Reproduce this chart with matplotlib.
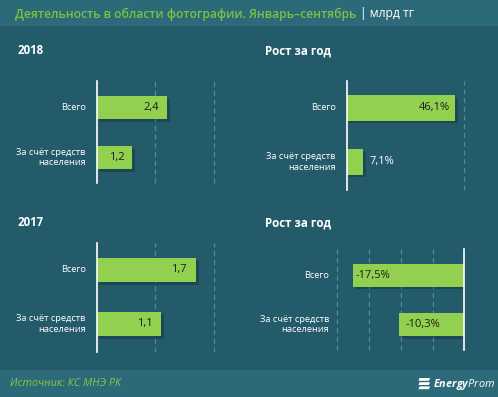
import matplotlib
matplotlib.use("Agg")
import matplotlib.pyplot as plt
import matplotlib.patheffects as pe
from matplotlib.patches import Rectangle, Polygon

plt.rcParams['font.family'] = ['Open Sans', 'DejaVu Sans']
plt.rcParams['mathtext.fontset'] = 'custom'
plt.rcParams['mathtext.bf'] = 'Open Sans:italic:bold'
plt.rcParams['mathtext.rm'] = 'Open Sans:italic'

# ---- data ----
title_main = "Деятельность в области фотографии. Январь–сентябрь"
title_unit = "| млрд тг"
categories = ["Всего", "За счёт средств\nнаселения"]
values_2018 = [2.4, 1.2]
labels_2018 = ["2,4", "1,2"]
growth_2018 = [46.1, 7.1]
glabels_2018 = ["46,1%", "7,1%"]
values_2017 = [1.7, 1.1]
labels_2017 = ["1,7", "1,1"]
growth_2017 = [-17.5, -10.3]
glabels_2017 = ["-17,5%", "-10,3%"]
source = "Источник: КС МНЭ РК"

W, H = 498, 397
BG = "#245b6a"
BAND = "#2c6979"
GREEN = "#92d050"
GRID = "#4d8c9c"
TXT_DARK = "#1c1c1c"

fig = plt.figure(figsize=(W / 100, H / 100), dpi=100)
fig.patch.set_facecolor(BG)

# bands
fig.add_artist(Rectangle((0, 1 - 26 / H), 1, 26 / H, transform=fig.transFigure,
                         facecolor=BAND, edgecolor='none', zorder=0))
fig.add_artist(Rectangle((0, 0), 1, 27 / H, transform=fig.transFigure,
                         facecolor=BAND, edgecolor='none', zorder=0))


def px_axes(x0, y0, x1, y1):
    return fig.add_axes([x0 / W, 1 - y1 / H, (x1 - x0) / W, (y1 - y0) / H])


def panel(rect, vals, labs, xlim, grids, ylim, bh, zero_x, label_x, inside_pad, outside):
    ax = px_axes(*rect)
    ax.set_facecolor('none')
    ys = list(range(len(categories)))
    ax.barh(ys, vals, height=bh, color=GREEN, zorder=3,
            path_effects=[pe.SimplePatchShadow(offset=(2, -2), shadow_rgbFace='black', alpha=0.2),
                          pe.Normal()])
    ax.set_xlim(*xlim)
    ax.set_ylim(*ylim)
    for g in grids:
        ax.axvline(g, color=GRID, lw=0.9, ls=(0, (4, 3)), zorder=1, clip_on=False)
    ax.axvline(zero_x, color='white', lw=1.2, zorder=4, clip_on=False)
    for s in ax.spines.values():
        s.set_visible(False)
    ax.set_xticks([])
    ax.set_yticks([])
    # category labels
    for y, c in zip(ys, categories):
        ax.annotate(c, xy=(0, y), xycoords=('axes fraction', 'data'),
                    xytext=(label_x, 0), textcoords='offset points',
                    ha='right', va='center', color='white', fontsize=6.7,
                    linespacing=1.2)
    # value labels
    for y, v, l, pad, out in zip(ys, vals, labs, inside_pad, outside):
        if out:
            ax.annotate(l, xy=(v, y), xytext=(pad, 0), textcoords='offset points',
                        ha='left', va='center', color='white', fontsize=8, zorder=5)
        elif v >= 0:
            ax.annotate(l, xy=(v, y), xytext=(-pad, 0), textcoords='offset points',
                        ha='right', va='center', color=TXT_DARK, fontsize=8, zorder=5)
        else:
            ax.annotate(l, xy=(v, y), xytext=(pad, 0), textcoords='offset points',
                        ha='left', va='center', color=TXT_DARK, fontsize=8, zorder=5)
    return ax


# 2018 values
panel((96.7, 81, 214, 183), values_2018, labels_2018, (0, 4), [2, 4],
      (1.51, -0.53), 0.46, 0, -8, [5.5, 5.5], [False, False])
# 2018 growth
panel((346.7, 81, 464, 190), growth_2018, glabels_2018, (0, 50), [50],
      (1.52, -0.5), 0.47, 0, -8, [3.5, 4.5], [False, True])
# 2017 values
panel((96.7, 243, 214, 352), values_2017, labels_2017, (0, 2), [1, 2],
      (1.52, -0.5), 0.46, 0, -8, [7, 6], [False, False])
# 2017 growth
panel((337.3, 249, 464.3, 350), growth_2017, glabels_2017, (-20, 0), [-20, -15, -10, -5],
      (1.51, -0.53), 0.46, 0, -6, [1.5, 4.5], [False, False])

# titles
t1 = fig.text(15 / W, 1 - 14 / H, title_main, color="#7cc242", fontsize=8.7,
              ha='left', va='center', fontweight='semibold')
plt.annotate(title_unit, xy=(1, 0.5), xycoords=t1, xytext=(2.5, 0),
             textcoords='offset points', ha='left', va='center',
             color='white', fontsize=8.7, annotation_clip=False)

for x, y, s in [(18, 51, "2018"), (265, 51, "Рост за год"),
                (18, 222, "2017"), (265, 223, "Рост за год")]:
    fig.text(x / W, 1 - y / H, s, color='white', fontsize=8.3, fontweight='bold',
             ha='left', va='center')

fig.text(10 / W, 1 - 384 / H, source, color="#8cc63f", fontsize=7.8, style='italic',
         ha='left', va='center')

# logo
lx, ly = 418, 384
for i in range(3):
    yy = ly - 6 + i * 4.2
    pts = [((lx + 1.5) / W, 1 - yy / H), ((lx + 12) / W, 1 - yy / H),
           ((lx + 11) / W, 1 - (yy + 2.8) / H), ((lx + 0.5) / W, 1 - (yy + 2.8) / H)]
    fig.add_artist(Polygon(pts, closed=True, transform=fig.transFigure,
                           facecolor='white', edgecolor='none'))
fig.text((lx + 15) / W, 1 - ly / H, r"$\mathbf{Energy}\mathrm{Prom}$", color='white',
         fontsize=7.8, ha='left', va='center')

fig.savefig("out.png", dpi=100, facecolor=fig.get_facecolor())
